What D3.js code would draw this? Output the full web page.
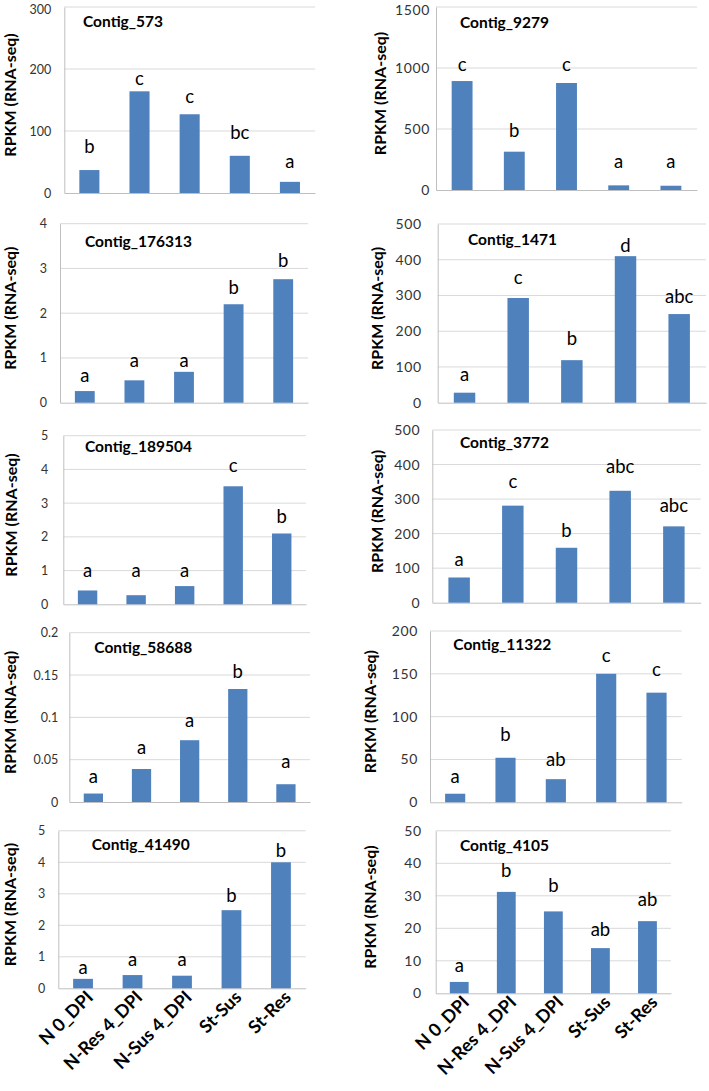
<!DOCTYPE html>
<html>
<head>
<meta charset="utf-8">
<script src="https://cdn.jsdelivr.net/npm/d3@7/dist/d3.min.js"></script>
<style>
  html, body { margin: 0; padding: 0; background: #fff; }
  svg { display: block; }
</style>
</head>
<body>
<svg id="chart" width="709" height="1091"></svg>
<script>
// ---------------- DATA ----------------
const categories = ["N 0_DPI", "N-Res 4_DPI", "N-Sus 4_DPI", "St-Sus", "St-Res"];
const contigs = ["Contig_573", "Contig_9279", "Contig_176313", "Contig_1471", "Contig_189504",
                 "Contig_3772", "Contig_58688", "Contig_11322", "Contig_41490", "Contig_4105"];

const values573    = [37, 164, 127, 60, 18];
const values9279   = [893, 314, 877, 38, 35];
const values176313 = [0.26, 0.5, 0.69, 2.2, 2.76];
const values1471   = [28, 293, 119, 410, 248];
const values189504 = [0.41, 0.27, 0.54, 3.5, 2.1];
const values3772   = [73, 281, 159, 324, 221];
const values58688  = [0.010, 0.039, 0.073, 0.1335, 0.021];
const values11322  = [10, 52, 27, 150, 128];
const values41490  = [0.3, 0.42, 0.4, 2.48, 4.0];
const values4105   = [3.5, 31.2, 25.2, 13.9, 22.2];

const letters573    = ["b", "c", "c", "bc", "a"];
const letters9279   = ["c", "b", "c", "a", "a"];
const letters176313 = ["a", "a", "a", "b", "b"];
const letters1471   = ["a", "c", "b", "d", "abc"];
const letters189504 = ["a", "a", "a", "c", "b"];
const letters3772   = ["a", "c", "b", "abc", "abc"];
const letters58688  = ["a", "a", "a", "b", "a"];
const letters11322  = ["a", "b", "ab", "c", "c"];
const letters41490  = ["a", "a", "a", "b", "b"];
const letters4105   = ["a", "b", "b", "ab", "ab"];

// height (data units) at which each significance letter sits (mean + error)
const letterAt573    = [64, 174, 145, 87, 41];
const letterAt9279   = [978, 437, 978, 183, 183];
const letterAt176313 = [0.47, 0.79, 0.79, 2.44, 3.04];
const letterAt1471   = [62, 332, 161, 421, 278];
const letterAt189504 = [0.82, 0.82, 0.82, 3.93, 2.42];
const letterAt3772   = [106, 332, 191, 375, 264];
const letterAt58688  = [0.022, 0.057, 0.089, 0.146, 0.040];
const letterAt11322  = [22, 72, 42, 164, 147];
const letterAt41490  = [0.45, 0.71, 0.71, 2.74, 4.18];
const letterAt4105   = [6.6, 35.9, 31.3, 17.6, 26.9];

const yMaxes = [300, 1500, 4, 500, 5, 500, 0.2, 200, 5, 50];
const ySteps = [100, 500, 1, 100, 1, 100, 0.05, 50, 1, 10];
const yAxisTitle = "RPKM (RNA-seq)";

const allValues  = [values573, values9279, values176313, values1471, values189504,
                    values3772, values58688, values11322, values41490, values4105];
const allLetters = [letters573, letters9279, letters176313, letters1471, letters189504,
                    letters3772, letters58688, letters11322, letters41490, letters4105];
const allLetterAt = [letterAt573, letterAt9279, letterAt176313, letterAt1471, letterAt189504,
                     letterAt3772, letterAt58688, letterAt11322, letterAt41490, letterAt4105];

// ---------------- LAYOUT ----------------
const layout = [
  {x0: 64.3, x1: 315,   top: 7,     zero: 193,   labX: 10,    titX: 83,    titY: 27.3, gap: 13},
  {x0: 436,  x1: 697,   top: 7,     zero: 190,   labX: 380,   titX: 460,   titY: 28,   gap: 6},
  {x0: 60,   x1: 308,   top: 223.7, zero: 402.7, labX: 10,    titX: 85,    titY: 246.7, gap: 13},
  {x0: 437.7,x1: 706,   top: 224,   zero: 402.7, labX: 377.5, titX: 468,   titY: 245,  gap: 16},
  {x0: 63.3, x1: 306,   top: 435.7, zero: 604.3, labX: 11.5,  titX: 85,    titY: 451.7, gap: 15},
  {x0: 432.3,x1: 700.7, top: 430,   zero: 602.7, labX: 377.5, titX: 460,   titY: 448,  gap: 12},
  {x0: 69.3, x1: 310,   top: 632.7, zero: 802,   labX: 10,    titX: 94.3,  titY: 653,  gap: 11},
  {x0: 430,  x1: 681.7, top: 631,   zero: 802.3, labX: 370,   titX: 453.3, titY: 650,  gap: 12},
  {x0: 58.3, x1: 305.7, top: 830.8, zero: 988.3, labX: 10,    titX: 91.7,  titY: 850,  gap: 13},
  {x0: 435.7,x1: 671,   top: 830.8, zero: 993.3, labX: 370,   titX: 460,   titY: 850.7, gap: 14}
];

const FONT = "Lato, 'Open Sans', sans-serif";
const BAR = "#4F81BD";
const GRID = "#D9D9D9";
const AXIS = "#BFBFBF";

const svg = d3.select("#chart");
const fmt = d => String(+d.toFixed(4));

contigs.forEach((name, i) => {
  const L = layout[i];
  const vals = allValues[i];
  const rightCol = i % 2 === 1;
  const g = svg.append("g");

  const x = d3.scaleBand().domain(categories).range([L.x0, L.x1])
              .paddingInner(0.6).paddingOuter(0.3);
  const y = d3.scaleLinear().domain([0, yMaxes[i]]).range([L.zero, L.top]);
  const ticks = d3.range(0, yMaxes[i] + ySteps[i] / 2, ySteps[i]);

  // gridlines
  g.selectAll(".grid").data(ticks.filter(t => t > 0)).enter().append("line")
    .attr("x1", L.x0).attr("x2", L.x1)
    .attr("y1", d => y(d)).attr("y2", d => y(d))
    .attr("stroke", GRID).attr("stroke-width", 1);

  // y axis
  const yAxis = d3.axisLeft(y).tickValues(ticks).tickFormat(fmt).tickSize(0).tickPadding(L.gap);
  const ya = g.append("g").attr("transform", `translate(${L.x0},0)`).call(yAxis);
  ya.select(".domain").attr("stroke", AXIS).attr("stroke-width", 1);
  ya.selectAll("text").attr("font-family", FONT)
    .attr("font-size", rightCol ? 14 : 12.5)
    .attr("letter-spacing", rightCol ? 0.6 : 0)
    .attr("fill", "#333")
    .attr("dy", d => (L.top < 15 && d === yMaxes[i]) ? "0.5em" : "0.32em");

  // x axis line
  const xAxis = d3.axisBottom(x).tickSize(0);
  const xa = g.append("g").attr("transform", `translate(0,${L.zero})`).call(xAxis);
  xa.select(".domain").attr("stroke", AXIS).attr("stroke-width", 1);
  if (i >= 8) {
    xa.selectAll("text")
      .attr("font-family", FONT).attr("font-size", 18).attr("font-weight", "bold")
      .attr("fill", "#000")
      .attr("text-anchor", "end")
      .attr("dy", "0")
      .attr("transform", "translate(9,8) rotate(-45)");
  } else {
    xa.selectAll("text").remove();
  }

  // bars
  g.selectAll(".bar").data(vals).enter().append("rect")
    .attr("x", (d, j) => x(categories[j]))
    .attr("width", x.bandwidth())
    .attr("y", d => y(d))
    .attr("height", d => L.zero - y(d))
    .attr("fill", BAR);

  // significance letters
  g.selectAll(".let").data(allLetters[i]).enter().append("text")
    .attr("x", (d, j) => x(categories[j]) + x.bandwidth() / 2)
    .attr("y", (d, j) => y(allLetterAt[i][j]))
    .attr("text-anchor", "middle")
    .attr("font-family", FONT).attr("font-size", 18.5).attr("fill", "#000")
    .text(d => d);

  // title
  g.append("text").attr("x", L.titX).attr("y", L.titY)
    .attr("font-family", FONT).attr("font-size", 15.5).attr("font-weight", "bold")
    .attr("fill", "#000").text(name);

  // y axis title
  const cy = (L.top + L.zero) / 2 - 5;
  g.append("text")
    .attr("transform", `translate(${L.labX},${cy}) rotate(-90)`)
    .attr("text-anchor", "middle").attr("dy", "0.35em")
    .attr("font-family", FONT).attr("font-size", 16).attr("font-weight", "bold")
    .attr("fill", "#000").text(yAxisTitle);
});
</script>
</body>
</html>
